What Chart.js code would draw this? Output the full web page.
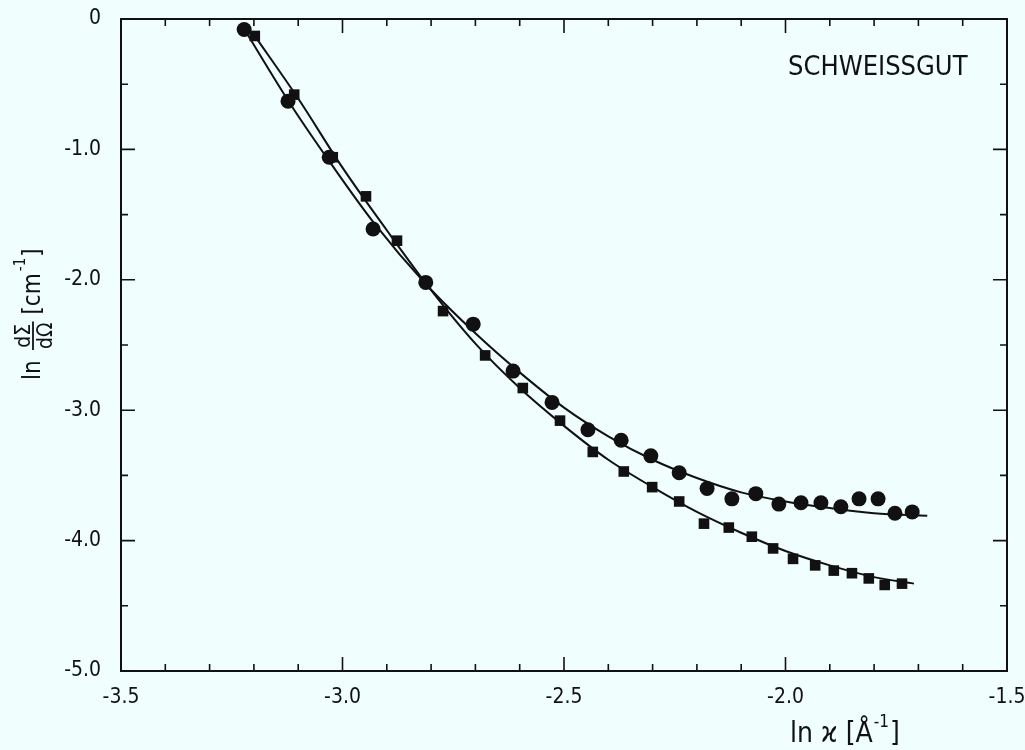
<!DOCTYPE html>
<html>
<head>
<meta charset="utf-8">
<script src="https://cdn.jsdelivr.net/npm/chart.js@4.4.1/dist/chart.umd.min.js"></script>
<style>
  html, body { margin: 0; padding: 0; background: #f0fefe; }
  #wrap { width: 1025px; height: 750px; }
</style>
</head>
<body>
<div id="wrap"><canvas id="plot" width="1025" height="750"></canvas></div>
<script>
// measured points (circles)
const circleX = [-3.222, -3.123, -3.030, -2.931, -2.812, -2.705, -2.615, -2.527, -2.446, -2.371, -2.304, -2.240,
                 -2.177, -2.121, -2.067, -2.015, -1.965, -1.920, -1.875, -1.834, -1.791, -1.753, -1.714];
const circleY = [-0.08, -0.63, -1.06, -1.61, -2.02, -2.34, -2.70, -2.94, -3.15, -3.23, -3.35, -3.48,
                 -3.60, -3.68, -3.64, -3.72, -3.71, -3.71, -3.74, -3.68, -3.68, -3.79, -3.78];

// measured points (squares)
const squareX = [-3.198, -3.109, -3.022, -2.947, -2.877, -2.773, -2.678, -2.593, -2.509, -2.435, -2.365, -2.301,
                 -2.240, -2.184, -2.128, -2.076, -2.028, -1.983, -1.933, -1.891, -1.850, -1.812, -1.776, -1.737];
const squareY = [-0.13, -0.58, -1.06, -1.36, -1.70, -2.24, -2.58, -2.83, -3.08, -3.32, -3.47, -3.59,
                 -3.70, -3.87, -3.90, -3.97, -4.06, -4.14, -4.19, -4.23, -4.25, -4.29, -4.34, -4.33];

// fitted curves
const circleFitX = [-3.225, -3.12, -3.03, -2.93, -2.81, -2.70, -2.60, -2.50, -2.40, -2.30, -2.20, -2.10, -2.00, -1.90, -1.80, -1.68];
const circleFitY = [-0.06, -0.64, -1.09, -1.56, -2.04, -2.41, -2.71, -2.98, -3.20, -3.38, -3.52, -3.63, -3.70, -3.75, -3.79, -3.81];
const squareFitX = [-3.20, -3.10, -3.00, -2.90, -2.80, -2.70, -2.60, -2.50, -2.40, -2.30, -2.20, -2.10, -2.00, -1.90, -1.80, -1.71];
const squareFitY = [-0.12, -0.61, -1.14, -1.62, -2.08, -2.49, -2.83, -3.12, -3.38, -3.59, -3.78, -3.94, -4.08, -4.19, -4.28, -4.33];

const xMin = -3.5, xMax = -1.5, xStep = 0.5;
const yMin = -5.0, yMax = 0, yStep = 1.0;
const sampleName = 'SCHWEISSGUT';

const ink = '#111';
const face = '"DejaVu Sans Condensed", "DejaVu Sans"';

function pts(xs, ys) {
    return xs.map(function (x, i) { return { x: x, y: ys[i] }; });
}

// background, frame, inward ticks and the axis titles
const decor = {
    id: 'decor',
    beforeDraw: function (chart) {
        const ctx = chart.ctx;
        ctx.save();
        ctx.fillStyle = '#f0fefe';
        ctx.fillRect(0, 0, chart.width, chart.height);
        ctx.restore();
    },
    afterDraw: function (chart) {
        const ctx = chart.ctx;
        const a = chart.chartArea;
        const xs = chart.scales.x, ys = chart.scales.y;
        ctx.save();
        ctx.strokeStyle = ink;
        ctx.lineWidth = 2;
        ctx.strokeRect(a.left, a.top, a.right - a.left, a.bottom - a.top);

        ctx.lineWidth = 1.6;
        ctx.beginPath();
        for (let i = 0; i <= 20; i++) {
            const px = xs.getPixelForValue(xMin + i * 0.1);
            const len = (i % 5 === 0) ? 14 : 7;
            ctx.moveTo(px, a.bottom); ctx.lineTo(px, a.bottom - len);
            ctx.moveTo(px, a.top); ctx.lineTo(px, a.top + len);
        }
        for (let j = 0; j <= 10; j++) {
            const py = ys.getPixelForValue(yMin + j * 0.5);
            const len = (j % 2 === 0) ? 14 : 7;
            ctx.moveTo(a.left, py); ctx.lineTo(a.left + len, py);
            ctx.moveTo(a.right, py); ctx.lineTo(a.right - len, py);
        }
        ctx.stroke();

        ctx.fillStyle = ink;
        ctx.textBaseline = 'alphabetic';

        // sample label
        ctx.font = '27px ' + face;
        ctx.textAlign = 'left';
        ctx.fillText(sampleName, 788, 75);

        // x title: ln ϰ [Å^-1]
        ctx.font = '28px ' + face;
        let x0 = 790, base = 742;
        ctx.fillText('ln ϰ [Å', x0, base);
        x0 += ctx.measureText('ln ϰ [Å').width;
        ctx.font = '17px ' + face;
        ctx.fillText('-1', x0 + 1, base - 15);
        x0 += ctx.measureText('-1').width + 2;
        ctx.font = '28px ' + face;
        ctx.fillText(']', x0, base);

        // y title: ln dΣ/dΩ [cm^-1], rotated
        ctx.translate(40, 380);
        ctx.rotate(-Math.PI / 2);
        ctx.font = '24px ' + face;
        ctx.fillText('ln', 0, 0);
        ctx.font = '21px ' + face;
        const fx = 31;
        const fw = Math.max(ctx.measureText('dΣ').width, ctx.measureText('dΩ').width);
        ctx.textAlign = 'center';
        ctx.fillText('dΣ', fx + fw / 2, -10);
        ctx.fillText('dΩ', fx + fw / 2, 12);
        ctx.lineWidth = 1.8;
        ctx.beginPath();
        ctx.moveTo(fx - 1, -7); ctx.lineTo(fx + fw + 1, -7);
        ctx.stroke();
        ctx.textAlign = 'left';
        ctx.font = '24px ' + face;
        let tx = fx + fw + 8;
        ctx.fillText('[cm', tx, 0);
        tx += ctx.measureText('[cm').width;
        ctx.font = '15px ' + face;
        ctx.fillText('-1', tx + 2, -15);
        tx += ctx.measureText('-1').width + 3;
        ctx.font = '24px ' + face;
        ctx.fillText(']', tx, 0);
        ctx.restore();
    }
};

const ctx = document.getElementById('plot').getContext('2d');
const plot = new Chart(ctx, {
    type: 'scatter',
    data: {
        datasets: [{
            label: 'circle fit',
            data: pts(circleFitX, circleFitY),
            showLine: true,
            cubicInterpolationMode: 'monotone',
            borderColor: ink,
            borderWidth: 2,
            pointRadius: 0
        }, {
            label: 'square fit',
            data: pts(squareFitX, squareFitY),
            showLine: true,
            cubicInterpolationMode: 'monotone',
            borderColor: ink,
            borderWidth: 2,
            pointRadius: 0
        }, {
            label: 'circles',
            data: pts(circleX, circleY),
            pointStyle: 'circle',
            pointRadius: 7.5,
            backgroundColor: ink,
            borderColor: ink,
            borderWidth: 0
        }, {
            label: 'squares',
            data: pts(squareX, squareY),
            pointStyle: 'rect',
            pointRadius: 7.5,
            backgroundColor: ink,
            borderColor: ink,
            borderWidth: 0
        }]
    },
    options: {
        responsive: false,
        animation: false,
        events: [],
        layout: { padding: { top: 19, right: 18, left: 0, bottom: 0 } },
        plugins: { legend: { display: false }, tooltip: { enabled: false } },
        scales: {
            x: {
                type: 'linear',
                min: xMin, max: xMax,
                grid: { display: false },
                border: { display: false },
                ticks: {
                    stepSize: xStep,
                    padding: 6,
                    color: ink,
                    font: { family: 'DejaVu Sans Condensed', size: 21 },
                    callback: function (v) { return v.toFixed(1); }
                },
                afterFit: function (s) { s.height = 79; s.paddingLeft = 0; s.paddingRight = 0; }
            },
            y: {
                type: 'linear',
                min: yMin, max: yMax,
                grid: { display: false },
                border: { display: false },
                ticks: {
                    stepSize: yStep,
                    padding: 12,
                    color: ink,
                    font: { family: 'DejaVu Sans Condensed', size: 21 },
                    callback: function (v) { return v === 0 ? '0' : v.toFixed(1); }
                },
                afterFit: function (s) { s.width = 121; s.paddingTop = 0; s.paddingBottom = 0; }
            }
        }
    },
    plugins: [decor]
});
</script>
</body>
</html>
